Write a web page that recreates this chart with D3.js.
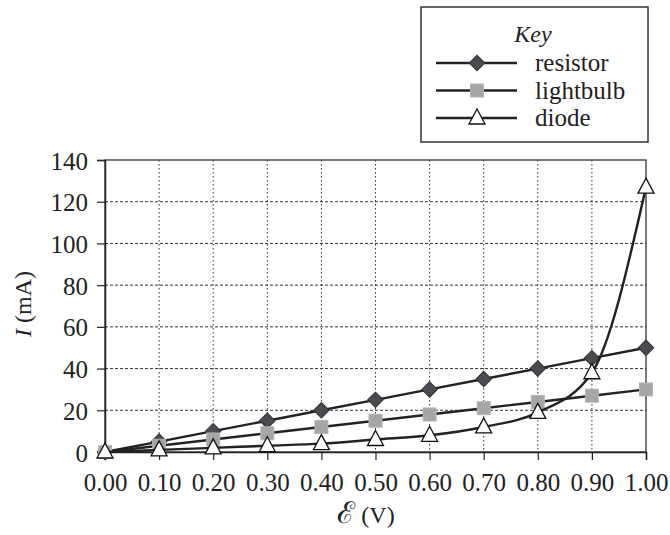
<!DOCTYPE html>
<html>
<head>
<meta charset="utf-8">
<script src="https://cdn.jsdelivr.net/npm/d3@7"></script>
<style>
    body { margin: 0; background: #fff; }
    svg { display: block; }
    text { font-family: "Liberation Serif", "DejaVu Serif", "Times New Roman", Times, serif; }
</style>
</head>
<body>
<svg id="chart" width="670" height="535"></svg>
<script>
// current vs emf for three components

var voltages = [0.00, 0.10, 0.20, 0.30, 0.40, 0.50, 0.60, 0.70, 0.80, 0.90, 1.00];
var resistorValues = [0, 5, 10, 15, 20, 25, 30, 35, 40, 45, 50];
var lightbulbValues = [0, 3, 6, 9, 12, 15, 18, 21, 24, 27, 30];
var diodeValues = [0, 1, 2, 3, 4, 6, 8, 12, 19, 38, 127];
var yTicks = [0, 20, 40, 60, 80, 100, 120, 140];
var seriesNames = ["resistor", "lightbulb", "diode"];

(function(d3) {

    var margin = { top: 160, right: 24, bottom: 83, left: 105 };
    var width = 670 - margin.left - margin.right;
    var height = 535 - margin.top - margin.bottom;

    var svg = d3.select("#chart");
    var g = svg.append("g")
        .attr("transform", "translate(" + margin.left + "," + margin.top + ")");

    var x = d3.scaleLinear().domain([0, 1]).range([0, width]);
    var y = d3.scaleLinear().domain([0, 140]).range([height, 0]);

    // grid
    g.append("g").selectAll("line")
        .data(yTicks.slice(1, -1))
        .enter()
        .append("line")
        .attr("x1", 0)
        .attr("x2", width)
        .attr("y1", function(d) { return y(d); })
        .attr("y2", function(d) { return y(d); })
        .attr("stroke", "#333")
        .attr("stroke-width", 1)
        .attr("stroke-dasharray", "3,2");

    g.append("g").selectAll("line")
        .data(voltages.slice(1, -1))
        .enter()
        .append("line")
        .attr("y1", 0)
        .attr("y2", height)
        .attr("x1", function(d) { return x(d); })
        .attr("x2", function(d) { return x(d); })
        .attr("stroke", "#333")
        .attr("stroke-width", 1)
        .attr("stroke-dasharray", "1.5,2.5");

    // frame
    g.append("rect")
        .attr("width", width)
        .attr("height", height)
        .attr("fill", "none")
        .attr("stroke", "#333")
        .attr("stroke-width", 1.3);

    // axes
    var xAxis = g.append("g")
        .attr("transform", "translate(0," + height + ")")
        .call(d3.axisBottom(x)
            .tickValues(voltages)
            .tickSize(8)
            .tickPadding(8)
            .tickFormat(d3.format(".2f")));

    var yAxis = g.append("g")
        .call(d3.axisLeft(y)
            .tickValues(yTicks)
            .tickSize(8)
            .tickPadding(9));

    [xAxis, yAxis].forEach(function(ax) {
        ax.attr("font-family", null);
        ax.select(".domain").attr("stroke", "#222").attr("stroke-width", 1.5);
        ax.selectAll(".tick line").attr("stroke", "#222").attr("stroke-width", 1.2);
        ax.selectAll(".tick text")
            .attr("font-size", 25)
            .attr("fill", "#222");
    });
    xAxis.selectAll(".tick text").attr("dy", "0.9em");
    yAxis.selectAll(".tick text").attr("dy", "0.36em");

    // axis titles
    var xTitle = svg.append("text")
        .attr("x", 366)
        .attr("y", 523)
        .attr("text-anchor", "middle")
        .attr("font-size", 24)
        .attr("fill", "#222");
    xTitle.append("tspan").attr("font-size", 30).text("\u2130");
    xTitle.append("tspan").text(" (V)");

    var yTitle = svg.append("text")
        .attr("transform", "translate(31,304) rotate(-90)")
        .attr("text-anchor", "middle")
        .attr("font-size", 24)
        .attr("fill", "#222");
    yTitle.append("tspan").attr("font-style", "italic").text("I");
    yTitle.append("tspan").text(" (mA)");

    // series
    var series = [
        { name: seriesNames[0], values: resistorValues, curve: d3.curveLinear },
        { name: seriesNames[1], values: lightbulbValues, curve: d3.curveLinear },
        { name: seriesNames[2], values: diodeValues, curve: d3.curveMonotoneX }
    ];

    var drawMarker = function(sel, name) {
        if (name === "resistor") {
            sel.append("path")
                .attr("d", d3.symbol().type(d3.symbolSquare).size(120))
                .attr("transform", "rotate(45)")
                .attr("fill", "#4a4a50")
                .attr("stroke", "#333")
                .attr("stroke-width", 1);
        } else if (name === "lightbulb") {
            sel.append("rect")
                .attr("x", -6.5).attr("y", -6.5)
                .attr("width", 13).attr("height", 13)
                .attr("fill", "#a6a6a6")
                .attr("stroke", "#b4b4b4")
                .attr("stroke-width", 1);
        } else {
            sel.append("path")
                .attr("d", "M0,-9L8,6L-8,6Z")
                .attr("fill", "#fff")
                .attr("stroke", "#111")
                .attr("stroke-width", 1.3);
        }
    };

    series.forEach(function(s) {
        var pts = voltages.map(function(v, i) { return [v, s.values[i]]; });
        var line = d3.line()
            .curve(s.curve)
            .x(function(d) { return x(d[0]); })
            .y(function(d) { return y(d[1]); });

        g.append("path")
            .datum(pts)
            .attr("d", line)
            .attr("fill", "none")
            .attr("stroke", "#222")
            .attr("stroke-width", 2.4);

        var marks = g.append("g").selectAll("g")
            .data(pts)
            .enter()
            .append("g")
            .attr("transform", function(d) {
                return "translate(" + x(d[0]) + "," + y(d[1]) + ")";
            });
        drawMarker(marks, s.name);
    });

    // key
    var key = svg.append("g").attr("transform", "translate(421,7)");
    key.append("rect")
        .attr("width", 227)
        .attr("height", 135)
        .attr("fill", "#fff")
        .attr("stroke", "#333")
        .attr("stroke-width", 1.5);
    key.append("text")
        .attr("x", 112)
        .attr("y", 35)
        .attr("text-anchor", "middle")
        .attr("font-style", "italic")
        .attr("font-size", 24)
        .attr("fill", "#222")
        .text("Key");

    var rows = key.selectAll("g.row")
        .data(seriesNames)
        .enter()
        .append("g")
        .attr("class", "row")
        .attr("transform", function(d, i) {
            return "translate(0," + (56 + i * 27.5) + ")";
        });
    rows.append("line")
        .attr("x1", 15)
        .attr("x2", 96)
        .attr("stroke", "#222")
        .attr("stroke-width", 2.4);
    rows.each(function(d) {
        drawMarker(d3.select(this).append("g").attr("transform", "translate(56,0)"), d);
    });
    rows.append("text")
        .attr("x", 114)
        .attr("dy", "0.32em")
        .attr("font-size", 25)
        .attr("fill", "#222")
        .text(function(d) { return d; });

})(d3);
</script>
</body>
</html>
